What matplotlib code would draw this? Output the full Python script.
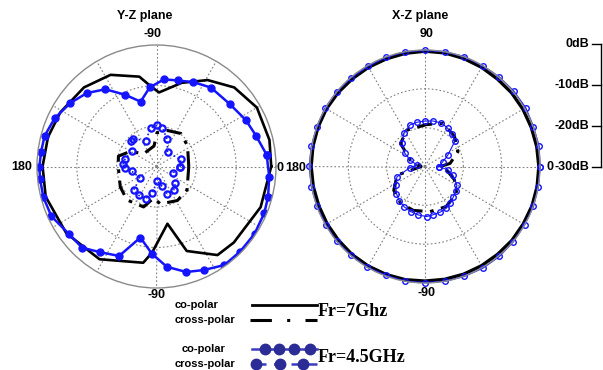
import numpy as np
import matplotlib
matplotlib.use("Agg")
import matplotlib.pyplot as plt

plt.rcParams['font.family'] = ['Liberation Sans', 'DejaVu Sans']

# ---- Y-Z plane (angles in degrees, levels in dB) ----
yz_co7_ang = [0, 13, 30, 45, 59, 73, 88, 94, 101, 117, 133, 151, 165, 180, 195,
              216, 238, 262, 267, 281, 290, 305, 316, 339]
yz_co7_db = [-1.2, -0.9, -0.9, -2.4, -5.1, -8.4, -11.7, -10.2, -7.4, -4.6, -3.3,
             -2.4, -1.8, -1.4, -1.2, -2.0, -3.0, -6.0, -8.7, -15.6, -7.8, -3.3,
             -3.0, -2.0]

yz_co45_ang = [6, 17, 27, 40, 55, 66, 76, 85, 95, 104, 114, 124, 134, 144, 155,
               165, 173, 180, 186, 195, 205, 217, 227, 236, 247, 257, 267, 276,
               286, 295, 305, 315, 326, 337, 345, 355]
yz_co45_db = [-2.2, -3.9, -4.8, -6.0, -6.2, -7.2, -8.1, -8.4, -10.4, -13.5, -10.6,
              -7.0, -4.8, -3.3, -1.8, -0.9, -0.8, -0.6, -0.6, -0.6, -0.9, -2.4,
              -2.6, -4.5, -6.0, -12.0, -8.4, -5.1, -2.9, -1.8, -0.3, -0.3, -0.3,
              -0.6, -1.0, -1.6]

yz_x7_ang = [0, 33, 53, 73, 89, 97, 136, 150, 165, 180, 209, 228, 252, 265, 276,
             302, 323]
yz_x7_db = [-21.9, -20.7, -19.8, -20.7, -21.6, -24.9, -25.5, -22.5, -20.1, -20.4,
            -19.6, -18.9, -19.5, -22.2, -20.7, -20.1, -20.4]

yz_x45_ang = [0, 16, 52, 68, 81, 89, 99, 113, 130, 136, 148, 167, 176, 182, 191,
              215, 225, 238, 251, 261, 273, 286, 292, 307, 319, 340]
yz_x45_db = [-24.0, -23.7, -25.5, -22.8, -20.4, -19.8, -20.4, -23.1, -21.0, -21.0,
             -22.8, -21.9, -21.6, -22.2, -23.7, -25.0, -21.9, -21.6, -21.6, -23.4,
             -26.4, -24.9, -22.8, -22.8, -23.7, -25.5]

# ---- X-Z plane ----
xz_co7_ang = list(range(0, 360, 10))
xz_co7_db = [-0.3, -0.4, -0.5, -0.5, -0.5, -0.6, -0.5, -0.4, -0.3, -0.3, -0.4,
             -0.5, -0.5, -0.5, -0.4, -0.3, -0.3, -0.3, -0.3, -0.4, -0.5, -0.5,
             -0.5, -0.4, -0.4, -0.4, -0.4, -0.5, -0.5, -0.5, -0.5, -0.5, -0.4,
             -0.4, -0.3, -0.3]

xz_co45_ang = list(range(0, 360, 10))
xz_co45_db = [0.0, 0.2, 0.1, 0.3, 0.2, 0.1, 0.0, 0.1, 0.0, -0.1, 0.0, -0.1,
              -0.2, -0.1, 0.0, 0.1, 0.0, 0.1, 0.2, 0.1, 0.0, -0.1, 0.0, -0.1,
              0.0, -0.2, 0.0, -0.1, 0.0, 0.1, 0.2, 0.2, 0.1, 0.0, 0.1, 0.0]

xz_x7_ang = [0, 7, 24, 45, 67, 88, 117, 137, 157, 180, 197, 217, 236, 255, 276,
             298, 320, 336, 351]
xz_x7_db = [-26.0, -23.4, -20.6, -19.1, -17.9, -19.2, -19.5, -21.3, -25.8, -29.0,
            -22.4, -19.8, -18.6, -18.3, -18.3, -18.3, -19.2, -21.6, -24.3]

xz_x45_ang = [0, 15, 26, 40, 50, 59, 69, 80, 90, 100, 110, 123, 135, 147, 157,
              170, 185, 200, 212, 223, 233, 242, 252, 262, 272, 280, 289, 297,
              305, 313, 322, 330, 343, 352]
xz_x45_db = [-26.4, -25.2, -23.4, -19.8, -19.2, -18.5, -18.0, -18.1, -18.3, -18.4,
             -18.6, -19.8, -21.6, -23.7, -25.8, -27.9, -26.0, -22.2, -21.0, -19.8,
             -18.9, -18.3, -17.8, -17.4, -17.1, -17.4, -17.6, -17.9, -18.5, -19.2,
             -19.8, -20.4, -22.4, -24.0]

scale_labels = ['0dB', '-10dB', '-20dB', '-30dB']
yz_labels = ['-90', '180', '0', '-90']   # top, left, right, bottom
xz_labels = ['90', '180', '0', '-90']

BLUE = '#1414ff'
W, H = 603, 370


def closed(ang, db):
    '''close a pattern and convert angles to radians'''
    a = np.deg2rad(list(ang) + [ang[0] + 360])
    r = list(db) + [db[0]]
    return a, r


def setup_polar(ax):
    ax.set_ylim(-30, 0)
    ax.set_yticks([-20, -10])
    ax.set_yticklabels([])
    ax.set_xticks(np.deg2rad(np.arange(0, 360, 30)))
    ax.set_xticklabels([])
    ax.grid(True, color='#808080', linestyle=(0, (1.5, 2)), linewidth=0.8)
    ax.spines['polar'].set_color('#8a8a8a')
    ax.spines['polar'].set_linewidth(1.0)
    ax.set_aspect('auto')


def fx(x):
    return x / W


def fy(y):
    return 1 - y / H


fig = plt.figure(figsize=(6.03, 3.70), dpi=100)

# left: Y-Z plane
ax1 = fig.add_axes([fx(37), fy(288), 239 / W, 243 / H], projection='polar')
setup_polar(ax1)
a, r = closed(yz_co7_ang, yz_co7_db)
ax1.plot(a, r, color='black', lw=1.9)
a, r = closed(yz_x7_ang, yz_x7_db)
ax1.plot(a, r, color='black', lw=2.2, dashes=(5, 2.5, 1.2, 2.5))
a, r = closed(yz_co45_ang, yz_co45_db)
ax1.plot(a, r, color=BLUE, lw=1.8, marker='o', ms=5, mfc=BLUE, mec=BLUE)
a, r = closed(yz_x45_ang, yz_x45_db)
ax1.plot(a, r, color=BLUE, lw=1.2, ls=':', marker='o', ms=4.5, mfc='none',
         mec=BLUE, mew=1.6)

# right: X-Z plane
ax2 = fig.add_axes([fx(310), fy(283), 230 / W, 233 / H], projection='polar')
setup_polar(ax2)
a, r = closed(xz_co7_ang, xz_co7_db)
ax2.plot(a, r, color='black', lw=2.4, clip_on=False)
a, r = closed(xz_x7_ang, xz_x7_db)
ax2.plot(a, r, color='black', lw=2.2, dashes=(5, 2.5, 1.2, 2.5))
a, r = closed(xz_co45_ang, xz_co45_db)
ax2.plot(a, r, color=BLUE, lw=1.0, marker='o', ms=4, mfc='none', mec=BLUE,
         mew=1.0, clip_on=False)
a, r = closed(xz_x45_ang, xz_x45_db)
ax2.plot(a, r, color=BLUE, lw=0.8, marker='o', ms=4, mfc='none', mec=BLUE,
         mew=1.0)

# overlay in pixel units for labels, scale and legend
ov = fig.add_axes([0, 0, 1, 1], zorder=-1)
ov.set_xlim(0, W)
ov.set_ylim(H, 0)
ov.axis('off')

bold = dict(fontsize=9, fontweight='bold', ha='center', va='center')
ov.text(145, 16, 'Y-Z plane', **bold)
ov.text(420, 16, 'X-Z plane', **bold)

for lab, (x, y) in zip(yz_labels, [(153, 34), (22, 167), (280, 168), (156, 295)]):
    ov.text(x, y, lab, **bold)
for lab, (x, y) in zip(xz_labels, [(427, 34), (296, 168), (550, 167), (427, 293)]):
    ov.text(x, y, lab, **bold)

# dB scale on the right
ys = np.linspace(44, 167, len(scale_labels))
ov.plot([601, 601], [ys[0], ys[-1]], color='black', lw=1)
for lab, y in zip(scale_labels, ys):
    ov.plot([592, 601], [y, y], color='black', lw=1)
    ov.text(589, y, lab, fontsize=9, fontweight='bold', ha='right', va='center')

# legend
small = dict(fontsize=8, fontweight='bold', ha='left', va='center')
ov.text(175, 305, 'co-polar', **small)
ov.text(175, 320, 'cross-polar', **small)
ov.plot([252, 317], [305, 305], color='black', lw=2)
ov.plot([250, 317], [320, 320], color='black', lw=2.2, dashes=(7, 5, 1, 5))
ov.text(318, 311, 'Fr=7Ghz', fontsize=13, fontweight='bold',
        family=['Liberation Serif', 'DejaVu Serif'], ha='left', va='center')

NAVY = '#2c2c96'
ov.text(182, 349, 'co-polar', **small)
ov.text(175, 364, 'cross-polar', **small)
ov.plot([252, 317], [349, 349], color='#3c3cc0', lw=1.8)
ov.plot([265, 279, 294, 310], [349] * 4, ls='none', marker='o', ms=7.5,
        mfc=NAVY, mec=NAVY)
ov.plot([256, 317], [364, 364], color='#3c3cc0', lw=1.8, dashes=(4, 3))
ov.plot([256, 280, 303], [364] * 3, ls='none', marker='o', ms=7.5,
        mfc=NAVY, mec=NAVY)
ov.text(318, 357, 'Fr=4.5GHz', fontsize=13, fontweight='bold',
        family=['Liberation Serif', 'DejaVu Serif'], ha='left', va='center')

fig.savefig('out.png', dpi=100, facecolor='white')
